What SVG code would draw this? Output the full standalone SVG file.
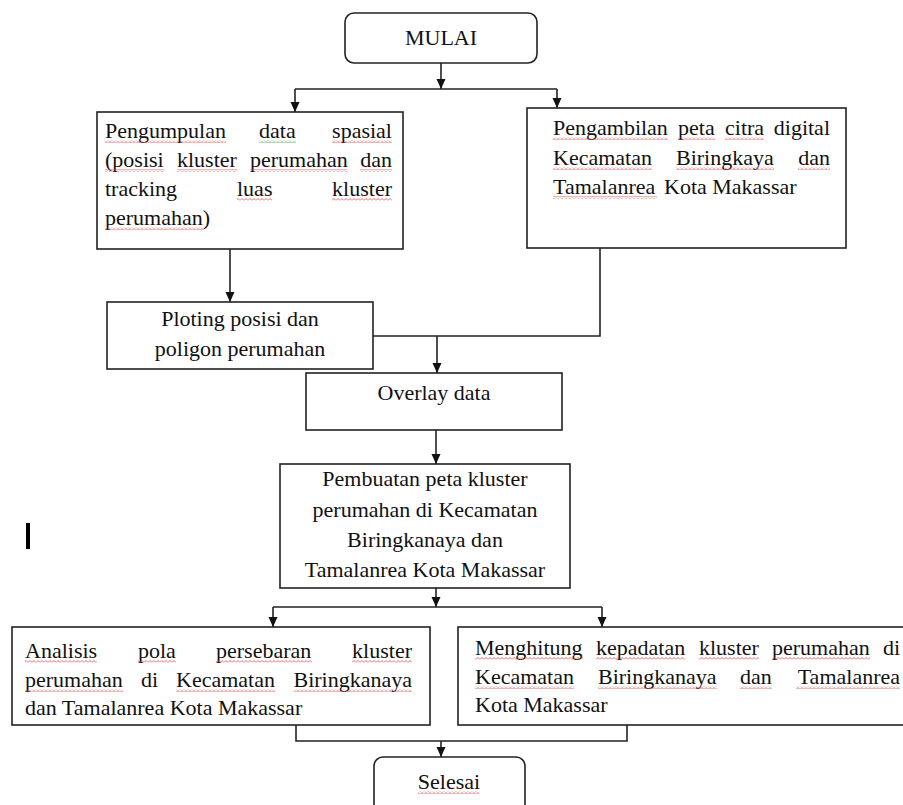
<svg xmlns="http://www.w3.org/2000/svg" width="903" height="805" viewBox="0 0 903 805">
<style>
  .box { fill: #ffffff; stroke: #222222; stroke-width: 1.6; }
  .t { font-family: "Liberation Serif", "Times New Roman", serif; font-size: 22px; fill: #111111; }
  .c { text-anchor: middle; }
  .e { text-anchor: end; }
  .ln { fill: none; stroke: #222222; stroke-width: 1.6; }
  .ar { fill: none; stroke: #222222; stroke-width: 1.6; marker-end: url(#ah); }
  .red { fill: url(#wr); }
  .grn { fill: url(#wg); }
</style>
<defs>
  <marker id="ah" viewBox="0 0 10 10" refX="10" refY="5" markerWidth="10" markerHeight="10" markerUnits="userSpaceOnUse" orient="auto">
    <path d="M0,0.5 L10,5 L0,9.5 z" fill="#111111"/>
  </marker>
  <pattern id="wr" width="4" height="3" patternUnits="userSpaceOnUse">
    <path d="M0,2.5 L2,0.5 L4,2.5" fill="none" stroke="#e04040" stroke-width="0.8"/>
  </pattern>
  <pattern id="wg" width="4" height="3" patternUnits="userSpaceOnUse">
    <path d="M0,2.5 L2,0.5 L4,2.5" fill="none" stroke="#40a040" stroke-width="0.8"/>
  </pattern>
</defs>
<rect width="903" height="805" fill="#ffffff"/>

<g id="connectors">
  <path class="ar" d="M441,63 V89"/>
  <path class="ln" d="M295,89 H557"/>
  <path class="ar" d="M295,89 V112"/>
  <path class="ar" d="M557,89 V108"/>
  <path class="ar" d="M230,249 V302"/>
  <path class="ln" d="M600,248 V336 H373"/>
  <path class="ar" d="M437,336 V373"/>
  <path class="ar" d="M436,430 V464"/>
  <path class="ar" d="M436,588 V607"/>
  <path class="ln" d="M273,607 H602"/>
  <path class="ar" d="M273,607 V627"/>
  <path class="ar" d="M602,607 V627"/>
  <path class="ln" d="M296,725 V741 H627 V725"/>
  <path class="ar" d="M441,741 V757"/>
</g>

<g id="mulai">
  <rect class="box" x="345" y="13" width="192" height="50" rx="9"/>
  <text class="t c" x="441" y="45">MULAI</text>
</g>

<g id="pengumpulan">
  <rect class="box" x="97" y="112" width="306" height="137"/>
  <text class="t" x="105" y="138">Pengumpulan</text>
  <text class="t" x="259" y="138">data</text>
  <text class="t e" x="392" y="138">spasial</text>
  <text class="t" x="105" y="167">(posisi</text>
  <text class="t" x="177" y="167">kluster</text>
  <text class="t" x="250" y="167">perumahan</text>
  <text class="t e" x="392" y="167">dan</text>
  <text class="t" x="105" y="196">tracking</text>
  <text class="t" x="237" y="196">luas</text>
  <text class="t e" x="392" y="196">kluster</text>
  <text class="t" x="105" y="225">perumahan)</text>
  <rect class="red" x="105" y="140" width="121" height="3"/>
  <rect class="grn" x="259" y="140" width="37" height="3"/>
  <rect class="red" x="332" y="140" width="60" height="3"/>
  <rect class="red" x="105" y="169" width="59" height="3"/>
  <rect class="red" x="177" y="169" width="60" height="3"/>
  <rect class="red" x="250" y="169" width="97" height="3"/>
  <rect class="red" x="360" y="169" width="32" height="3"/>
  <rect class="red" x="237" y="198" width="35" height="3"/>
  <rect class="red" x="332" y="198" width="60" height="3"/>
  <rect class="red" x="105" y="227" width="98" height="3"/>
</g>

<g id="pengambilan">
  <rect class="box" x="527" y="108" width="319" height="140"/>
  <text class="t" x="553" y="135">Pengambilan</text>
  <text class="t" x="678" y="135">peta</text>
  <text class="t" x="725" y="135">citra</text>
  <text class="t e" x="830" y="135">digital</text>
  <text class="t" x="553" y="165">Kecamatan</text>
  <text class="t" x="676" y="165">Biringkaya</text>
  <text class="t e" x="830" y="165">dan</text>
  <text class="t" x="553" y="194">Tamalanrea</text>
  <text class="t" x="664" y="194">Kota Makassar</text>
  <rect class="red" x="553" y="137" width="115" height="3"/>
  <rect class="red" x="678" y="137" width="37" height="3"/>
  <rect class="red" x="725" y="137" width="39" height="3"/>
  <rect class="red" x="553" y="167" width="99" height="3"/>
  <rect class="red" x="676" y="167" width="98" height="3"/>
  <rect class="red" x="798" y="167" width="32" height="3"/>
  <rect class="red" x="553" y="196" width="104" height="3"/>
</g>

<g id="ploting">
  <rect class="box" x="107" y="302" width="266" height="67"/>
  <text class="t c" x="240" y="326">Ploting posisi dan</text>
  <text class="t c" x="240" y="356">poligon perumahan</text>
</g>

<g id="overlay">
  <rect class="box" x="306" y="373" width="256" height="57"/>
  <text class="t c" x="434" y="400">Overlay data</text>
</g>

<g id="pembuatan">
  <rect class="box" x="280" y="464" width="290" height="124"/>
  <text class="t c" x="425" y="486">Pembuatan peta kluster</text>
  <text class="t c" x="425" y="517">perumahan di Kecamatan</text>
  <text class="t c" x="425" y="547">Biringkanaya dan</text>
  <text class="t c" x="425" y="577">Tamalanrea Kota Makassar</text>
</g>

<g id="analisis">
  <rect class="box" x="12" y="627" width="418" height="98"/>
  <text class="t" x="25" y="658">Analisis</text>
  <text class="t" x="138" y="658">pola</text>
  <text class="t" x="216" y="658">persebaran</text>
  <text class="t e" x="412" y="658">kluster</text>
  <text class="t" x="25" y="687">perumahan</text>
  <text class="t" x="141" y="687">di</text>
  <text class="t" x="176" y="687">Kecamatan</text>
  <text class="t e" x="412" y="687">Biringkanaya</text>
  <text class="t" x="25" y="715">dan Tamalanrea Kota Makassar</text>
  <rect class="red" x="25" y="660" width="72" height="3"/>
  <rect class="red" x="138" y="660" width="38" height="3"/>
  <rect class="red" x="216" y="660" width="96" height="3"/>
  <rect class="red" x="352" y="660" width="60" height="3"/>
  <rect class="red" x="25" y="689" width="98" height="3"/>
  <rect class="red" x="176" y="689" width="99" height="3"/>
  <rect class="red" x="294" y="689" width="118" height="3"/>
</g>

<g id="menghitung">
  <rect class="box" x="458" y="627" width="446" height="98"/>
  <text class="t" x="475" y="655">Menghitung</text>
  <text class="t" x="596" y="655">kepadatan</text>
  <text class="t" x="699" y="655">kluster</text>
  <text class="t" x="772" y="655">perumahan</text>
  <text class="t e" x="900" y="655">di</text>
  <text class="t" x="475" y="684">Kecamatan</text>
  <text class="t" x="598" y="684">Biringkanaya</text>
  <text class="t" x="740" y="684">dan</text>
  <text class="t e" x="900" y="684">Tamalanrea</text>
  <text class="t" x="475" y="712">Kota Makassar</text>
  <rect class="red" x="475" y="657" width="108" height="3"/>
  <rect class="red" x="596" y="657" width="89" height="3"/>
  <rect class="red" x="699" y="657" width="60" height="3"/>
  <rect class="red" x="772" y="657" width="98" height="3"/>
  <rect class="red" x="475" y="686" width="99" height="3"/>
  <rect class="red" x="598" y="686" width="119" height="3"/>
  <rect class="red" x="740" y="686" width="32" height="3"/>
  <rect class="red" x="796" y="686" width="104" height="3"/>
</g>

<g id="selesai">
  <rect class="box" x="374" y="757" width="151" height="60" rx="9"/>
  <text class="t c" x="449" y="789">Selesai</text>
  <rect class="red" x="418" y="791" width="61" height="3"/>
</g>

<rect x="26" y="523" width="4" height="26" fill="#000000"/>
</svg>
